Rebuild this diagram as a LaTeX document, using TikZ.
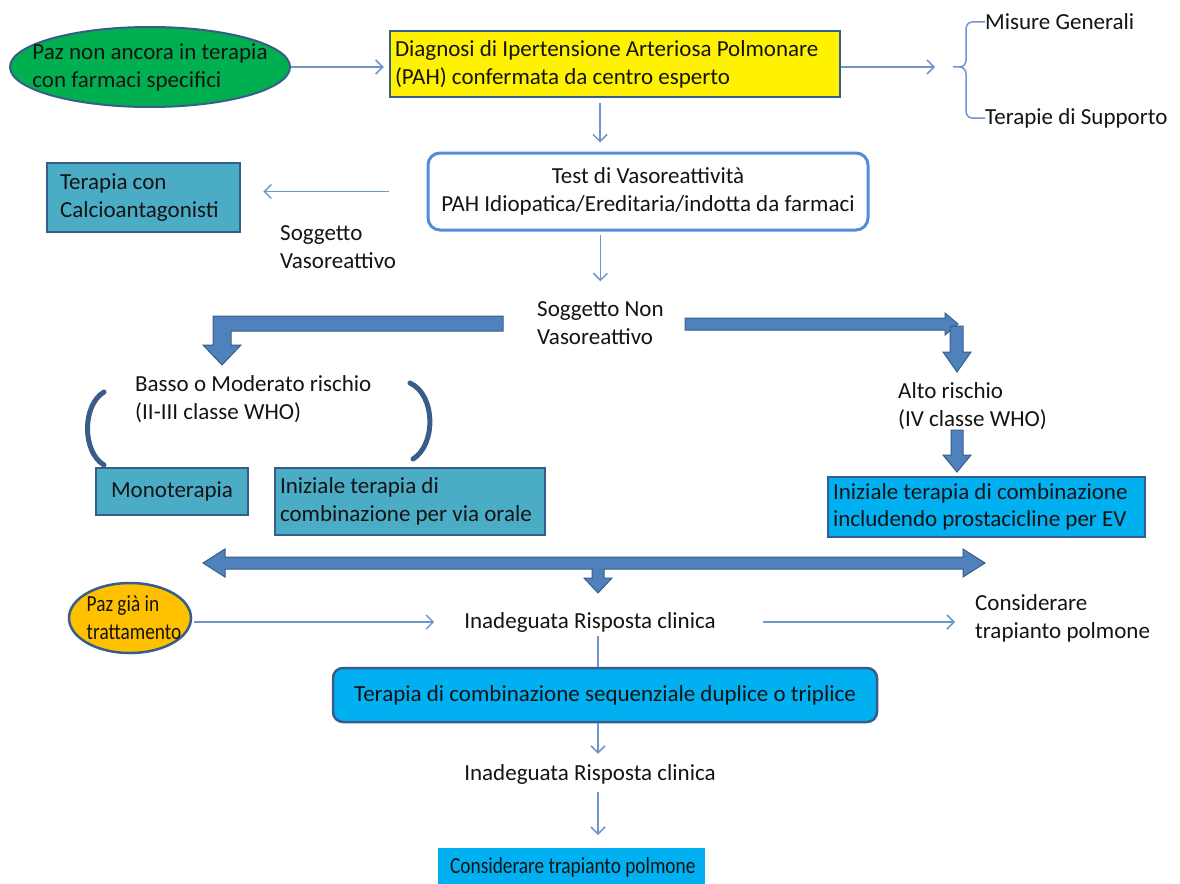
\documentclass[tikz,border=0pt]{standalone}
\usepackage{fontspec}
\setmainfont{Carlito}
\usetikzlibrary{arrows.meta,shapes.geometric,calc}
\definecolor{bdark}{RGB}{56,93,138}
\definecolor{bmid}{RGB}{79,129,189}
\definecolor{flowc}{RGB}{110,150,205}
\definecolor{testb}{RGB}{84,141,212}
\definecolor{gfill}{RGB}{0,176,80}
\definecolor{tealf}{RGB}{75,172,198}
\definecolor{cyanf}{RGB}{0,176,240}
\definecolor{orangef}{RGB}{255,192,0}
\definecolor{txt}{RGB}{20,20,20}
\begin{document}
\begin{tikzpicture}[x=1pt,y=-1pt,
  every node/.style={font=\fontsize{23}{28}\selectfont, text=txt},
  box/.style={draw=bdark, line width=2.5pt, rectangle, inner xsep=5pt, inner ysep=0pt, align=flush left},
  lbl/.style={inner sep=0pt, align=left},
  flow/.style={draw=flowc, line width=1.5pt, -{Straight Barb[length=7pt,width=14pt]}},
  block/.style={fill=bmid, draw=bdark, line width=1pt, line join=miter},
  curv/.style={draw=bdark, line width=5pt, line cap=round}]
\useasboundingbox[fill=white] (0,0) rectangle (1180,883);

% nodes
\node[ellipse, draw=bdark, line width=2pt, fill=gfill, minimum width=280pt, minimum height=80pt] (paz) at (150,67) {};
\node[lbl] (paztxt) at (paz.center) {Paz non ancora in terapia\\con farmaci specifici};

\node[box, fill=yellow, text width=440pt, minimum height=66pt] (diag) at (615,64) {Diagnosi di Ipertensione Arteriosa Polmonare\\(PAH) confermata da centro esperto};

\node[lbl, anchor=west] (misure) at (985,22) {Misure Generali};
\node[lbl, anchor=west] (supporto) at (985,118) {Terapie di Supporto};
\coordinate (brtip) at (953,67);

\node[draw=testb, line width=3pt, rounded corners=12pt, fill=white, minimum width=440pt, minimum height=77pt, align=center, inner sep=0pt] (test) at (648,191.5) {Test di Vasoreattività\\PAH Idiopatica/Ereditaria/indotta da farmaci};

\node[box, fill=tealf, inner xsep=13pt, text width=167pt, minimum height=69pt] (calcio) at (143.5,197.5) {Terapia con\\Calcioantagonisti};

\node[lbl, anchor=west] (vaso) at (280,247.5) {Soggetto\\Vasoreattivo};
\node[lbl, anchor=west] (nonvaso) at (537,323) {Soggetto Non\\Vasoreattivo};
\node[lbl, anchor=west] (basso) at (135,399) {Basso o Moderato rischio\\(II-III classe WHO)};
\node[lbl, anchor=west] (alto) at (898,406) {Alto rischio\\(IV classe WHO)};

\node[box, fill=tealf, minimum width=152pt, minimum height=47pt, align=center] (mono) at (172,491.5) {Monoterapia};
\node[box, fill=tealf, text width=260pt, minimum height=67pt] (orale) at (410,501.5) {Iniziale terapia di\\combinazione per via orale};
\node[box, fill=cyanf, text width=307pt, minimum height=60pt, font=\fontsize{23}{27}\selectfont] (ev) at (986.5,507) {Iniziale terapia di combinazione\\includendo prostacicline per EV};

\node[ellipse, draw=bdark, line width=2.5pt, fill=orangef, minimum width=122pt, minimum height=70pt] (gia) at (130,618) {};
\node[lbl, xscale=0.84, transform shape] (giatxt) at ([xshift=4pt]gia.center) {Paz già in\\trattamento};

\node[lbl] (inad1) at (590,622) {Inadeguata Risposta clinica};
\node[lbl, anchor=west] (consid) at (975,618) {Considerare\\trapianto polmone};

\node[draw=bdark, line width=2.5pt, rounded corners=10pt, fill=cyanf, minimum width=544pt, minimum height=54pt, align=center] (seq) at (605,695) {Terapia di combinazione sequenziale duplice o triplice};

\node[lbl] (inad2) at (590,774) {Inadeguata Risposta clinica};

\node[fill=cyanf, anchor=north west, minimum width=267pt, minimum height=42pt] (final) at (438,848) {};
\node[lbl, anchor=west, xscale=0.84, transform shape] (finaltxt) at (450,867) {Considerare trapianto polmone};

% brace
\draw[draw=flowc, line width=1.5pt] (brtip) -- (960,67) to[out=0,in=-90] (966,60) -- (966,29) to[out=90,in=180] (972,22) -- (misure.west);
\draw[draw=flowc, line width=1.5pt] (960,67) to[out=0,in=90] (966,74) -- (966,111) to[out=-90,in=180] (972,118) -- (supporto.west);

% thin arrows
\draw[flow, shorten >=5pt] (paz.east) -- (paz.east -| diag.west);
\draw[flow, shorten >=18pt] (brtip -| diag.east) -- (brtip);
\draw[flow, shorten <=5pt, shorten >=9pt] ([xshift=-15pt]diag.south) -- ([xshift=-48pt]test.north);
\draw[flow, shorten <=38pt, shorten >=22pt] (test.west) -- (test.west -| calcio.east);
\draw[flow, shorten <=3pt, shorten >=20pt] (nonvaso.north |- test.south) -- (nonvaso.north);
\draw[flow, shorten <=2pt, shorten >=30pt] (inad1.west -| gia.east) -- (inad1.west);
\draw[flow, shorten <=47pt, shorten >=20pt] (inad1.east) -- (consid.west |- inad1.east);
\draw[draw=flowc, line width=1.5pt, shorten <=4pt] ([xshift=8pt]inad1.south) -- ([xshift=8pt]inad1.south |- seq.north);
\draw[flow, shorten >=10pt] ([xshift=-7pt]seq.south) -- ([xshift=8pt]inad2.north);
\draw[flow, shorten <=8pt, shorten >=13pt] ([xshift=8pt]inad2.south) -- ([xshift=8pt]inad2.south |- final.north);

% block arrows
\draw[block] (503,316) -- (213,316) -- (213,345) -- (203,345) -- (222,365) -- (241,345) -- (231,345) -- (231,331) -- (503,331) -- cycle;
\draw[block] (685,318) -- (945,318) -- (945,313) -- (958,324) -- (945,335) -- (945,330) -- (685,330) -- cycle;
\draw[block] (950,326) -- (963,326) -- (963,352) -- (971,352) -- (957,372) -- (943,352) -- (950,352) -- cycle;
\draw[block] (951,430) -- (963,430) -- (963,455) -- (971,455) -- (957,472) -- (943,455) -- (951,455) -- cycle;
\draw[block] (203,563) -- (225,549) -- (225,557) -- (963,557) -- (963,549) -- (985,563) -- (963,577) -- (963,569) -- (604,569) -- (604,578) -- (612,578) -- (598,593) -- (584,578) -- (592,578) -- (592,569) -- (225,569) -- (225,577) -- cycle;

% curved arrows
\draw[curv] (104,392) .. controls (82,405) and (82,452) .. (104,465);
\draw[curv] (410,383) .. controls (436,395) and (436,445) .. (413,459);
\end{tikzpicture}
\end{document}
